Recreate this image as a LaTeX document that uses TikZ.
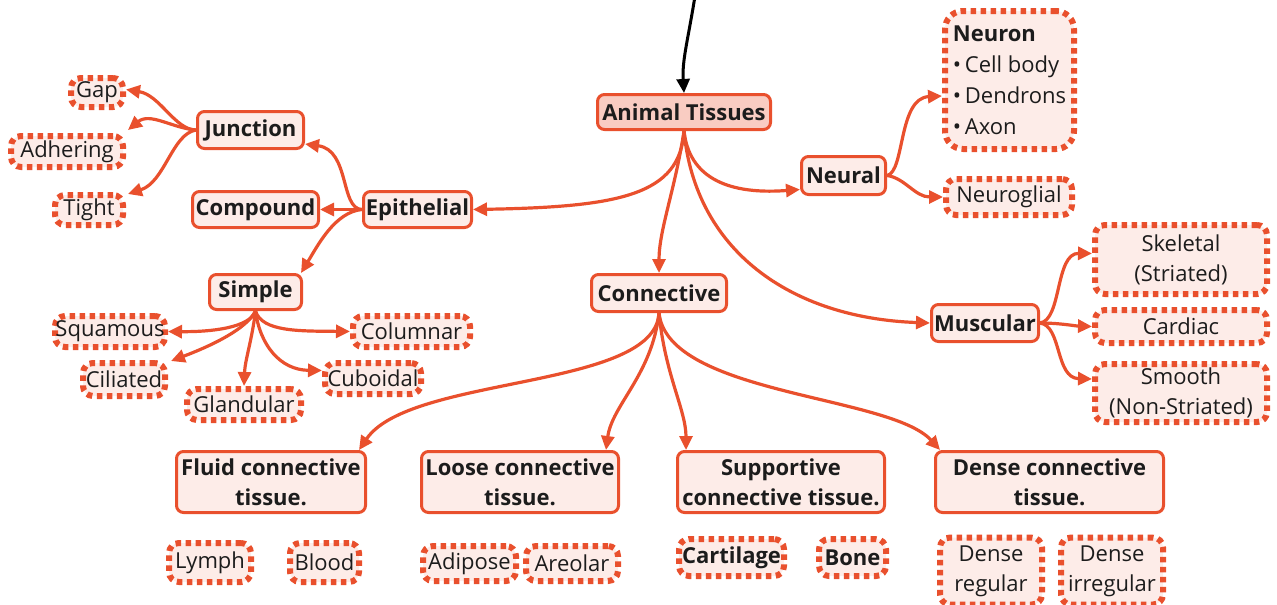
\documentclass[tikz,border=0pt]{standalone}
\usepackage{fontspec}
\setmainfont{Open Sans}
\usetikzlibrary{arrows.meta}
\definecolor{ored}{RGB}{233,80,45}
\definecolor{pfill}{RGB}{253,236,232}
\definecolor{pdark}{RGB}{249,204,194}
\definecolor{txt}{RGB}{28,28,28}
\begin{document}
\begin{tikzpicture}[x=1pt,y=-1pt,
  solidbox/.style={draw=ored, line width=3pt, fill=pfill, rounded corners=7pt, text=txt,
    font=\bfseries\fontsize{22}{30}\selectfont, align=center, inner xsep=0pt, inner ysep=0pt},
  dotbox/.style={draw=ored, line width=6pt, dash pattern=on 5.5pt off 4.5pt, fill=pfill, rounded corners=10pt, text=txt,
    font=\fontsize{22}{30}\selectfont, align=center, inner xsep=0pt, inner ysep=0pt},
  edge/.style={draw=ored, line width=3.2pt, -{Triangle[length=14pt,width=13pt]}},
  sz/.style 2 args={minimum width=#1pt, minimum height=#2pt}
]
\useasboundingbox (0,0) rectangle (1277,605);

% main nodes
\node[solidbox, fill=pdark, sz={173}{35}] (AT) at (684,112) {Animal Tissues};
\node[solidbox, sz={106}{37}] (Junc) at (250.5,130) {Junction};
\node[solidbox, sz={126}{36}] (Comp) at (255.5,209.5) {Compound};
\node[solidbox, sz={108}{36}] (Epi) at (417.5,209.5) {Epithelial};
\node[solidbox, sz={92}{35}] (Simple) at (255.5,292) {Simple};
\node[solidbox, sz={135}{37}] (Conn) at (659,293) {Connective};
\node[solidbox, sz={84}{38}] (Neural) at (843.5,175.5) {Neural};
\node[solidbox, sz={107}{37}] (Musc) at (985,323) {Muscular};
\node[solidbox, sz={189}{61}] (Fluid) at (271,482) {Fluid connective\\tissue.};
\node[solidbox, sz={197}{61}] (Loose) at (520,482) {Loose connective\\tissue.};
\node[solidbox, sz={207}{61}] (Supp) at (781,482) {Supportive\\connective tissue.};
\node[solidbox, sz={228}{61}] (Dense) at (1049.5,482) {Dense connective\\tissue.};

% leaf nodes
\node[dotbox, sz={52}{29}] (Gap) at (97,92.5) {Gap};
\node[dotbox, sz={112}{31}] (Adh) at (67,151.5) {Adhering};
\node[dotbox, sz={68}{30}] (Tight) at (89,210) {Tight};
\node[dotbox, sz={110}{31}] (Squam) at (110,331.5) {Squamous};
\node[dotbox, sz={117}{31}] (Colum) at (411.5,331.5) {Columnar};
\node[dotbox, sz={82}{33}] (Cili) at (124,379.5) {Ciliated};
\node[dotbox, sz={96}{31}] (Cubo) at (373,378.5) {Cuboidal};
\node[dotbox, sz={114}{31}] (Gland) at (244,404.5) {Glandular};
\node[dotbox, sz={129}{138}, rounded corners=18pt, align=left, font=\fontsize{22}{31}\selectfont] (Neuron) at (1009.5,80)
  {\textbf{Neuron}\\\textbullet\,Cell body\\\textbullet\,Dendrons\\\textbullet\,Axon};
\node[dotbox, sz={126}{36}] (Glia) at (1009,197) {Neuroglial};
\node[dotbox, sz={172}{69}] (Skel) at (1181,259.5) {Skeletal\\(Striated)};
\node[dotbox, sz={172}{33}] (Card) at (1181,326.5) {Cardiac};
\node[dotbox, sz={172}{58}] (Smooth) at (1181,393) {Smooth\\(Non-Striated)};
\node[dotbox, sz={82}{39}] (Lymph) at (210,562.5) {Lymph};
\node[dotbox, sz={69}{39}] (Blood) at (324.5,562.5) {Blood};
\node[dotbox, sz={93}{35}] (Adip) at (469.5,563.5) {Adipose};
\node[dotbox, sz={92}{35}] (Areo) at (572,563.5) {Areolar};
\node[dotbox, sz={105}{37}, font=\bfseries\fontsize{22}{30}\selectfont] (Cart) at (731.5,557.5) {Cartilage};
\node[dotbox, sz={67}{37}, font=\bfseries\fontsize{22}{30}\selectfont] (Bone) at (852.5,557.5) {Bone};
\node[dotbox, sz={102}{67}] (DReg) at (991,571) {Dense\\regular};
\node[dotbox, sz={102}{67}] (DIrr) at (1112,571) {Dense\\irregular};

% incoming black arrow
\coordinate (topin) at (695,-4);
\draw[black, line width=3pt, -{Triangle[length=14pt,width=13pt]}] (topin) .. controls (688,40) and (682,60) .. (AT.north);

% from Animal Tissues
\draw[edge] (AT.south) .. controls (680,195) and (620,207) .. (Epi.east);
\draw[edge] (AT.south) .. controls (675,190) and (659,230) .. (Conn.north);
\draw[edge] (AT.south) .. controls (690,185) and (740,194) .. ([yshift=-14pt]Neural.west);
\draw[edge] (AT.south) .. controls (695,250) and (790,318) .. (Musc.west);

% from Epithelial
\draw[edge] (Epi.west) .. controls (340,209) and (350,150) .. ([yshift=-14pt]Junc.east);
\draw[edge] (Epi.west) -- (Comp.east);
\draw[edge] (Epi.west) .. controls (335,212) and (318,245) .. ([xshift=-2pt]Simple.north east);

% from Junction
\draw[edge] (Junc.west) .. controls (175,130) and (160,95) .. ([yshift=3pt]Gap.east);
\draw[edge] (Junc.west) .. controls (172,128) and (150,112) .. ([xshift=2pt,yshift=3pt]Adh.north east);
\draw[edge] (Junc.west) .. controls (172,134) and (165,182) .. ([xshift=2pt,yshift=-2pt]Tight.north east);

% from Simple
\draw[edge] (Simple.south) .. controls (250,328) and (210,332) .. (Squam.east);
\draw[edge] (Simple.south) .. controls (262,332) and (300,331) .. (Colum.west);
\draw[edge] (Simple.south) .. controls (245,332) and (200,350) .. ([xshift=3pt,yshift=-1pt]Cili.north east);
\draw[edge] (Simple.south) .. controls (252,340) and (245,360) .. (Gland.north);
\draw[edge] (Simple.south) .. controls (260,345) and (280,370) .. ([yshift=8pt]Cubo.west);

% from Neural
\draw[edge] (Neural.east) .. controls (905,172) and (898,98) .. ([yshift=-16pt]Neuron.west);
\draw[edge] (Neural.east) .. controls (905,178) and (915,197) .. (Glia.west);

% from Muscular
\draw[edge] (Musc.east) .. controls (1062,320) and (1055,253) .. ([yshift=6pt]Skel.west);
\draw[edge] (Musc.east) .. controls (1060,323) and (1075,326) .. (Card.west);
\draw[edge] (Musc.east) .. controls (1062,326) and (1055,378) .. ([yshift=14pt]Smooth.west);

% from Connective
\draw[edge] (Conn.south) .. controls (655,390) and (410,375) .. ([xshift=-8pt]Fluid.north east);
\draw[edge] (Conn.south) .. controls (652,375) and (612,405) .. ([xshift=-14pt]Loose.north east);
\draw[edge] (Conn.south) .. controls (665,375) and (686,410) .. ([xshift=10pt]Supp.north west);
\draw[edge] (Conn.south) .. controls (668,395) and (890,395) .. ([xshift=6pt]Dense.north west);
\end{tikzpicture}
\end{document}
